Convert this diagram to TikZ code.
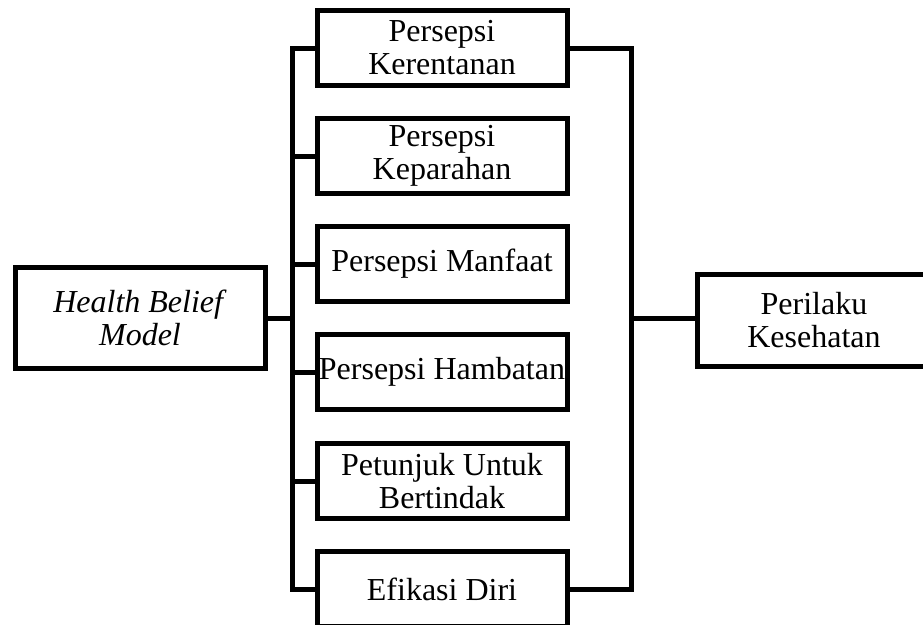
\documentclass[tikz,border=0pt]{standalone}
\usepackage{fontspec}
\setmainfont{Liberation Serif}

\begin{document}
\begin{tikzpicture}[x=1pt, y=-1pt, line width=5pt,
		every node/.style={draw, inner sep=0pt, align=center, font=\fontsize{32}{33}\selectfont},
		factor/.style={minimum width=250pt, minimum height=75pt},
		]
		\clip (0,0) rectangle (923,624);
		\node[minimum width=250pt, minimum height=101pt] (hbm) at (140,318) {\textit{Health Belief}\\\textit{Model}};
		\node[factor] (p1) at (442,48) {Persepsi\\Kerentanan};
		\node[factor] (p2) at (442,156) {Persepsi\\Keparahan};
		\node[factor] (p3) at (442,264) {Persepsi Manfaat};
		\node[factor] (p4) at (442,372) {Persepsi Hambatan};
		\node[factor] (p5) at (442,481) {Petunjuk Untuk\\Bertindak};
		\node[factor] (p6) at (442,589) {Efikasi Diri};
		\node[minimum width=234pt, minimum height=92pt] (pk) at (814,320) {Perilaku\\Kesehatan};
		\coordinate (lt) at (292,48);
		\coordinate (lb) at (292,589);
		\coordinate (rt) at (631,48);
		\coordinate (rb) at (631,589);
		\draw (p1.west) -- (lt) -- (lb) -- (p6.west);
		\draw (p1.east) -- (rt) -- (rb) -- (p6.east);
		\foreach \n in {p2,p3,p4,p5}
		\draw (\n.west) -- (\n.west -| lt);
		\draw (hbm.east) -- (hbm.east -| lt);
		\draw (pk.west |- hbm.east) -- (hbm.east -| rt);
	\end{tikzpicture}
\end{document}
